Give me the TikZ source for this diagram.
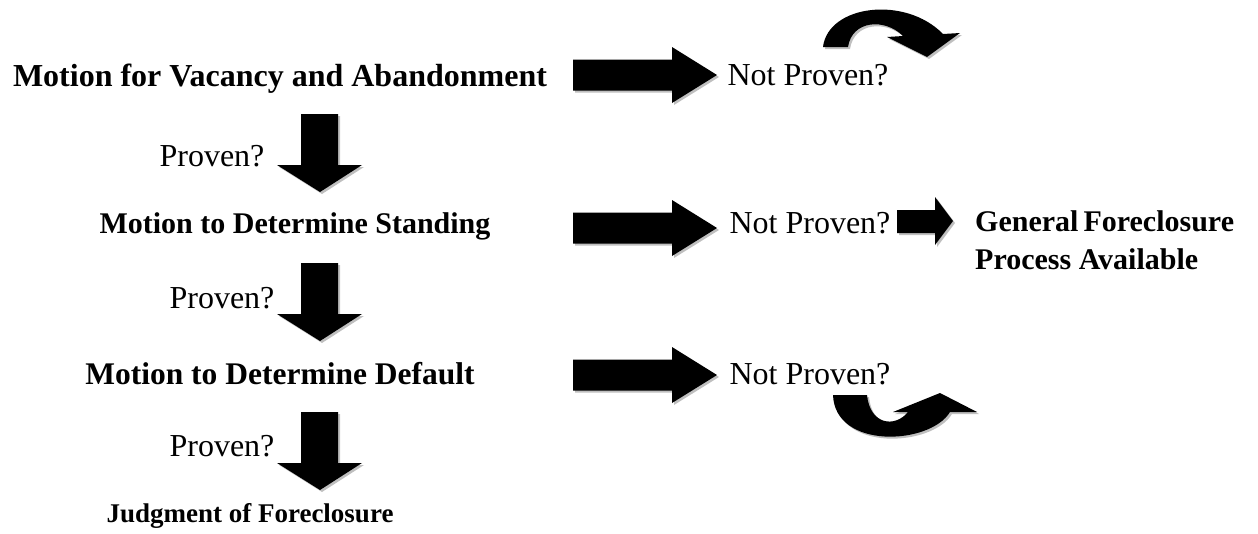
\documentclass[tikz,border=0pt]{standalone}
\usepackage{fontspec}
\setmainfont{Liberation Serif}
\usetikzlibrary{shadows}
\tikzset{
  lbl/.style={inner sep=0pt, anchor=base},
  hd/.style={lbl, font=\bfseries\fontsize{#1}{#1}\selectfont},
  pl/.style={lbl, font=\fontsize{32}{32}\selectfont},
  blk/.style={fill=black, drop shadow={shadow xshift=2pt, shadow yshift=-2pt, fill=black, opacity=0.25}},
}
\begin{document}
\begin{tikzpicture}[x=1pt,y=-1pt]
\useasboundingbox[fill=white] (0,0) rectangle (1258,533);
% text nodes
\node[hd=32] (m1) at (280,86) {Motion for Vacancy and Abandonment};
\node[hd=30] (m2) at (295,233) {Motion to Determine Standing};
\node[hd=31.5] (m3) at (280,384) {Motion to Determine Default};
\node[hd=27] (m4) at (250,522) {Judgment of Foreclosure};
\node[pl] (p1) at (212,166) {Proven?};
\node[pl] (p2) at (222,308) {Proven?};
\node[pl] (p3) at (222,456) {Proven?};
\node[pl] (n1) at (808,85) {Not Proven?};
\node[pl] (n2) at (810,233) {Not Proven?};
\node[pl] (n3) at (810,384) {Not Proven?};
\node[hd=30, anchor=base west] (g1) at (975,231) {General\,Foreclosure};
\node[hd=30, anchor=base west] (g2) at (975,269) {Process Available};
% right block arrows
\foreach \c in {75,228,375}{
  \fill[blk] (573,\c-15.5) -- (672,\c-15.5) -- (672,\c-28) -- (717,\c) -- (672,\c+28) -- (672,\c+15.5) -- (573,\c+15.5) -- cycle;
}
% small arrow to general process
\fill[blk] (897,210) -- (935,210) -- (935,197) -- (953,221) -- (935,245) -- (935,233) -- (897,233) -- cycle;
% down block arrows
\foreach \t in {114,263,412}{
  \fill[blk] (301,\t) -- (338,\t) -- (338,\t+51) -- (362,\t+51) -- (320,\t+78) -- (277,\t+51) -- (301,\t+51) -- cycle;
}
% top curved arrow
\fill[blk] (823,47) .. controls (828,5) and (905,-5) .. (943,34) -- (960,33) -- (927,57) -- (887,37) -- (903,36)
  .. controls (885,18) and (852,20) .. (848,47) -- cycle;
% bottom curved arrow
\fill[blk] (833,395) -- (867,395) .. controls (870,425) and (895,428) .. (908,412) -- (893,412) -- (940,393) -- (977,412) -- (950,412)
  .. controls (930,445) and (835,450) .. (833,395) -- cycle;
\end{tikzpicture}
\end{document}
